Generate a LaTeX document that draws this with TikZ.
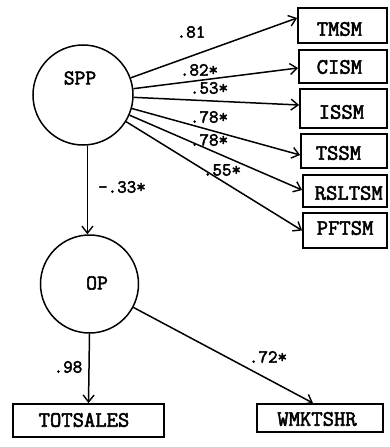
\documentclass[tikz,border=0pt]{standalone}
\usepackage{fontspec}
\setmonofont{Latin Modern Mono}[AutoFakeBold=2.5]
\usetikzlibrary{arrows.meta}
\begin{document}
\begin{tikzpicture}[x=1pt,y=-1pt,
  line width=1.5pt,
  circ/.style={draw, circle, inner sep=0pt},
  box/.style={draw, line width=1.8pt, inner sep=0pt},
  boxtext/.style={font=\ttfamily\bfseries\fontsize{22}{22}\selectfont, inner sep=0pt},
  circtext/.style={font=\ttfamily\bfseries\fontsize{21}{21}\selectfont, inner sep=0pt},
  lab/.style={font=\ttfamily\bfseries\fontsize{18.5}{18.5}\selectfont, inner sep=0pt},
  arr/.style={-{Straight Barb[length=7pt,width=11pt,line width=1.4pt]}},
]
\useasboundingbox (0,0) rectangle (389,447);

% circles
\node[circ, minimum size=100pt] (spp) at (83,95) {};
\node[circtext] (sppT) at (80,78) {SPP};
\node[circ, minimum size=98pt] (op) at (89.5,284) {};
\node[circtext] (opT) at (97,283) {OP};

% right boxes
\node[box, minimum width=89pt, minimum height=35pt] (tmsm) at (342.5,25.5) {};
\node[box, minimum width=88pt, minimum height=33pt] (cism) at (343,66.5) {};
\node[box, minimum width=87pt, minimum height=39pt] (issm) at (343.5,108.5) {};
\node[box, minimum width=86pt, minimum height=34pt] (tssm) at (344,151) {};
\node[box, minimum width=84pt, minimum height=32pt] (rsltsm) at (345,191) {};
\node[box, minimum width=84pt, minimum height=35pt] (pftsm) at (345,230.5) {};

\node[boxtext, anchor=west] (tmsmT) at (316,29) {TMSM};
\node[boxtext, anchor=west] (cismT) at (316,67) {CISM};
\node[boxtext, anchor=west] (issmT) at (318,112) {ISSM};
\node[boxtext, anchor=west] (tssmT) at (315,153) {TSSM};
\node[boxtext, anchor=west] (rsltsmT) at (314,193) {RSLTSM};
\node[boxtext, anchor=west] (pftsmT) at (316,228) {PFTSM};

% bottom boxes
\node[box, minimum width=151pt, minimum height=33pt] (totsales) at (88.5,420.5) {};
\node[box, minimum width=126pt, minimum height=28pt] (wmktshr) at (320,418) {};
\node[boxtext] (totsalesT) at (84,420) {TOTSALES};
\node[boxtext] (wmktshrT) at (317,419) {WMKTSHR};

% connectors
\draw[arr] (spp) -- ([yshift=7.5pt]tmsm.west);
\draw[arr] (spp) -- ([yshift=-1.5pt]cism.west);
\draw[arr] (spp) -- ([yshift=3.5pt]issm.west);
\draw[arr] (spp) -- ([yshift=-4pt]tssm.west);
\draw[arr] (spp) -- ([yshift=1pt]rsltsm.west);
\draw[arr] (spp) -- (pftsm.west);
\draw[arr] (spp.-85) -- (spp.-85 |- op.north);
\draw[arr] (op.south) -- (totsales.north);
\draw[arr] (op) -- ([xshift=-7pt]wmktshr.north);

% labels
\node[lab] (l81) at (191,32) {.81};
\node[lab] (l82) at (199,70) {.82*};
\node[lab] (l53) at (209,88) {.53*};
\node[lab] (l78a) at (209,117) {.78*};
\node[lab] (l78b) at (209,140) {.78*};
\node[lab] (l55) at (222,170) {.55*};
\node[lab] (l33) at (122,187) {-.33*};
\node[lab] (l98) at (68,367) {.98};
\node[lab] (l72) at (268,357) {.72*};
\end{tikzpicture}
\end{document}
